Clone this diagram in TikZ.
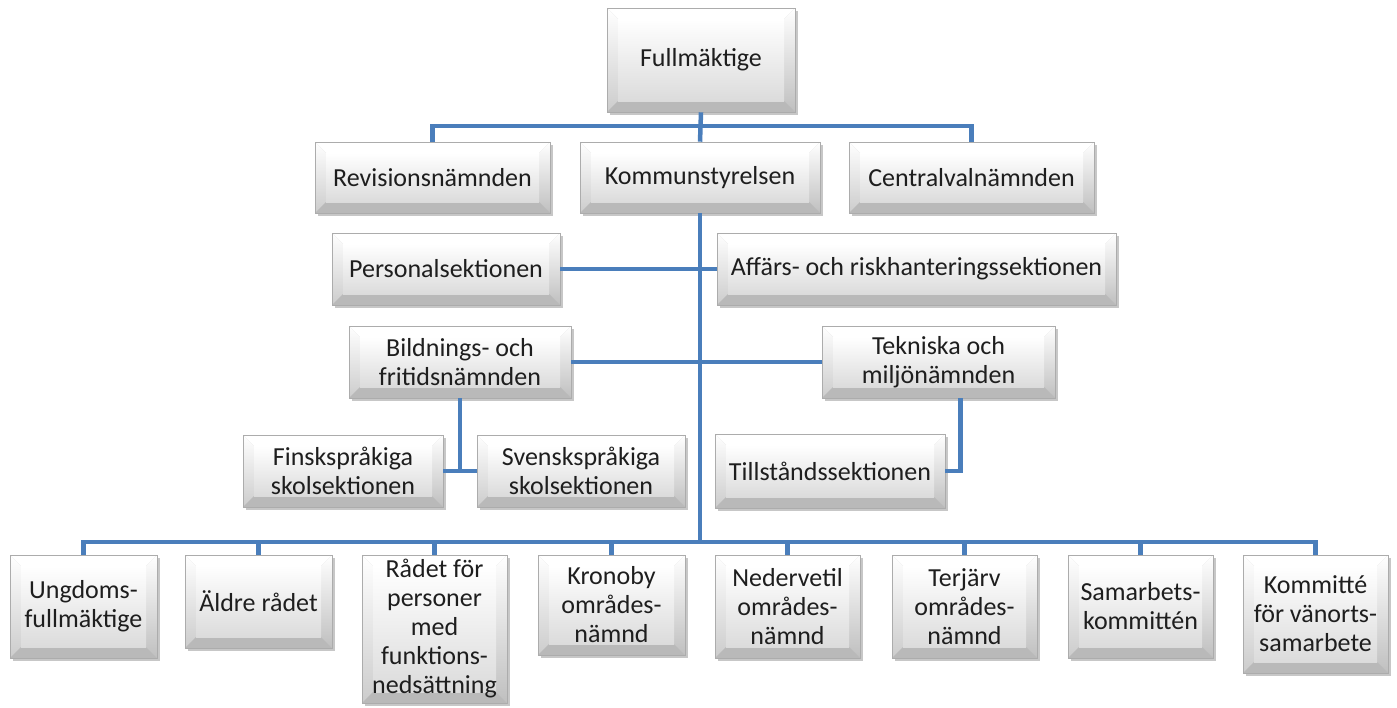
\documentclass[tikz,border=0pt]{standalone}
\usepackage{fontspec}
\setmainfont{Carlito}
\usetikzlibrary{shadows,calc}
\definecolor{conn}{HTML}{4A7EBB}
\definecolor{txt}{HTML}{1E1E1E}
\tikzset{
  bevel/.style={path picture={
    \path (path picture bounding box.south west) coordinate (bvsw)
          (path picture bounding box.north east) coordinate (bvne)
          (path picture bounding box.north west) coordinate (bvnw)
          (path picture bounding box.south east) coordinate (bvse);
    \path ([shift={(11pt,11pt)}]bvsw) coordinate (bisw)
          ([shift={(-11pt,-11pt)}]bvne) coordinate (bine)
          ([shift={(11pt,-11pt)}]bvnw) coordinate (binw)
          ([shift={(-11pt,11pt)}]bvse) coordinate (bise);
    \fill[gray!45] (bvsw) rectangle (bvne);
    \fill[white] (bvnw)--(bvne)--(bine)--(binw)--cycle;
    \shade[top color=white,bottom color=gray!40] (bvnw)--(bvsw)--(bisw)--(binw)--cycle;
    \shade[top color=white,bottom color=gray!50] (bvne)--(bvse)--(bise)--(bine)--cycle;
    \fill[gray!55] (bvsw)--(bvse)--(bise)--(bisw)--cycle;
    \shade[top color=white,bottom color=gray!28] (bisw) rectangle (bine);
  }},
  orgbox/.style={bevel, draw=gray!65, line width=0.6pt, inner sep=0pt,
    align=center, text=txt, font=\fontsize{26}{29}\selectfont,
    drop shadow={shadow xshift=3pt, shadow yshift=-3pt, fill=gray!55, opacity=0.8}},
  conline/.style={draw=conn, line width=4.5pt}
}
\begin{document}
\begin{tikzpicture}[x=1pt,y=-1pt]
\useasboundingbox (0,0) rectangle (1397,707);
% top levels
\node[orgbox, minimum width=188pt, minimum height=104pt] (full) at (701,60) {Fullmäktige};
\node[orgbox, minimum width=235pt, minimum height=71pt] (rev) at (432.5,177.5) {Revisionsnämnden};
\node[orgbox, minimum width=240pt, minimum height=71pt] (kom) at (700,177.5) {Kommunstyrelsen};
\node[orgbox, minimum width=245pt, minimum height=71pt] (cen) at (971.5,177.5) {Centralvalnämnden};
\node[orgbox, minimum width=228pt, minimum height=72pt] (pers) at (446,269) {Personalsektionen};
\node[orgbox, minimum width=399pt, minimum height=72pt] (aff) at (916.5,269) {Affärs- och riskhanteringssektionen};
\node[orgbox, minimum width=222pt, minimum height=72pt] (bild) at (460,362) {Bildnings- och\\fritidsnämnden};
\node[orgbox, minimum width=233pt, minimum height=72pt] (tek) at (938.5,362) {Tekniska och\\miljönämnden};
\node[orgbox, minimum width=200pt, minimum height=72pt] (fin) at (343,471) {Finskspråkiga\\skolsektionen};
\node[orgbox, minimum width=208pt, minimum height=72pt] (sve) at (581,471) {Svenskspråkiga\\skolsektionen};
\node[orgbox, minimum width=230pt, minimum height=74pt] (til) at (830,471) {Tillståndssektionen};
% bottom row
\node[orgbox, minimum width=147pt, minimum height=103pt] (ung) at (83.5,606.5) {Ungdoms-\\fullmäktige};
\node[orgbox, minimum width=147pt, minimum height=93pt] (ald) at (258.5,601.5) {Äldre rådet};
\node[orgbox, minimum width=145pt, minimum height=148pt] (rad) at (434.5,629) {Rådet för\\personer\\med\\funktions-\\nedsättning};
\node[orgbox, minimum width=147pt, minimum height=100pt] (kro) at (611.5,605) {Kronoby\\områdes-\\nämnd};
\node[orgbox, minimum width=145pt, minimum height=103pt] (ned) at (787.5,606.5) {Nedervetil\\områdes-\\nämnd};
\node[orgbox, minimum width=145pt, minimum height=103pt] (ter) at (964.5,606.5) {Terjärv\\områdes-\\nämnd};
\node[orgbox, minimum width=145pt, minimum height=103pt] (sam) at (1140.5,606.5) {Samarbets-\\kommittén};
\node[orgbox, minimum width=145pt, minimum height=118pt] (kmt) at (1315.5,614) {Kommitté\\för vänorts-\\samarbete};
% bus coordinates
\coordinate (bus1) at (700,126);
\coordinate (bus2) at (700,542);
% connectors
\draw[conline] (full.south) -- (kom.north);
\draw[conline] (rev.north) |- (bus1) -| (cen.north);
\draw[conline] (kom.south) -- (bus2);
\draw[conline] (pers.east) -- (pers.east -| kom.south);
\draw[conline] (aff.west) -- (aff.west -| kom.south);
\draw[conline] (bild.east) -- (bild.east -| kom.south);
\draw[conline] (tek.west) -- (tek.west -| kom.south);
\draw[conline] (bild.south) |- (fin.east);
\draw[conline] (bild.south) |- (sve.west);
\draw[conline] ([xshift=22pt]tek.south) |- (til.east);
\draw[conline] (ung.north) |- (bus2) -| (kmt.north);
\foreach \n in {ald,rad,kro,ned,ter,sam} {
  \draw[conline] (\n.north) -- (\n.north |- bus2);
}
\end{tikzpicture}
\end{document}
